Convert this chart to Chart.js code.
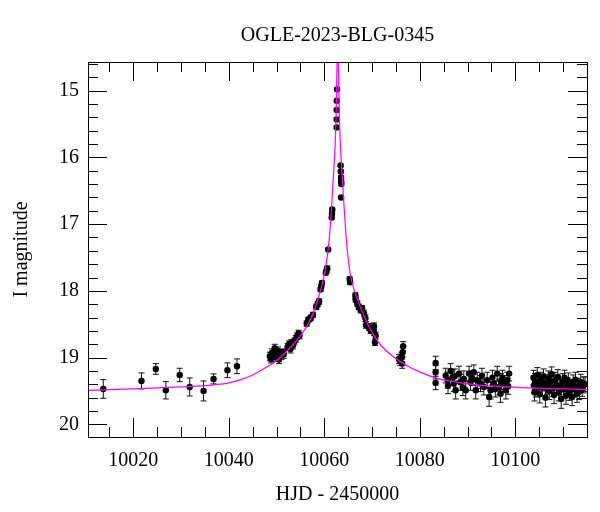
<!DOCTYPE html>
<html>
<head>
<meta charset="utf-8">
<script src="https://cdn.jsdelivr.net/npm/chart.js@4/dist/chart.umd.min.js"></script>
<style>
  html, body { margin: 0; padding: 0; background: #fff; }
  #wrap { width: 600px; height: 512px; }
</style>
</head>
<body>
<div id="wrap"><canvas id="c" width="600" height="512"></canvas></div>
<script>
// ---------- DATA ----------
const chartTitle = "OGLE-2023-BLG-0345";
const xTitle = "HJD - 2450000";
const yTitle = "I magnitude";

// observations: HJD-2450000, I magnitude, error
const obsHJD = [
  10013.7,10021.7,10024.7,10026.8,10029.7,10031.8,10034.7,10036.8,10039.7,10041.7,
  10048.6,10048.8,10049.0,10049.3,10049.6,10049.8,10050.0,10050.3,10050.5,10050.7,
  10051.0,10051.3,10051.5,10052.3,10052.6,10052.9,10053.1,10053.4,10053.7,10054.0,
  10054.3,10054.6,10054.8,10056.3,10056.6,10056.9,10057.2,10057.6,10058.3,10058.6,
  10058.9,10059.2,10059.35,10059.5,10060.3,10060.45,10060.6,10060.8,10061.55,10061.6,
  10061.65,10062.58,10062.58,10062.6,10062.6,10062.65,10063.4,10063.45,10063.5,10063.52,
  10063.55,10063.5,10065.3,10065.4,10066.5,10066.55,10066.9,10067.2,10067.6,10067.9,
  10068.3,10068.6,10068.7,10069.3,10069.7,10070.4,10070.4,10070.6,10070.75,
  10075.6,10075.9,10076.2,10076.4,10076.5,10076.3,
  10083.3,10083.3,10083.3,
  10085.4,10085.8,10086.45,10086.8,10087.1,10087.5,10088.2,10088.5,10089.2,10089.6,
  10090.3,10090.6,10091.3,10091.7,10092.0,10092.7,10093.4,10094.1,10094.5,10094.8,
  10095.2,10095.5,10096.2,10096.6,10096.9,10097.3,10097.6,10098.0,10098.3,10098.7,
  10085.9,10087.3,10089.0,10090.9,10093.0,10095.8,10097.0,10098.5,
  10103.8,10103.9,10104.0,10104.1,10104.3,10104.6,10104.9,10105.1,10105.3,10105.6,
  10105.9,10106.1,10106.3,10106.6,10106.9,10107.1,10107.3,10107.6,10107.9,10108.1,
  10108.3,10108.6,10108.9,10109.1,10109.3,10109.6,10109.9,10110.1,10110.3,10110.6,
  10110.9,10111.1,10111.3,10111.6,10111.9,10112.1,10112.3,10112.6,10112.9,10113.1,
  10113.4,10113.7,10114.0,10114.3,10114.6
];
const obsMag = [
  19.47,19.35,19.17,19.49,19.26,19.44,19.50,19.32,19.19,19.13,
  18.98,19.02,18.93,18.96,18.86,19.00,18.95,18.90,19.03,18.93,
  18.97,18.92,18.95,18.84,18.80,18.87,18.78,18.82,18.76,18.72,
  18.68,18.64,18.67,18.49,18.44,18.42,18.40,18.36,18.24,18.20,
  18.16,17.98,17.93,17.88,17.73,17.70,17.66,17.38,16.90,16.84,
  16.78,15.55,15.43,15.29,15.15,14.98,16.12,16.21,16.30,16.36,
  16.40,16.60,17.82,17.87,18.07,18.13,18.19,18.24,18.29,18.26,
  18.34,18.41,18.51,18.54,18.59,18.53,18.62,18.77,18.67,
  19.02,19.05,18.99,18.92,18.83,19.09,
  19.08,19.22,19.38,
  19.27,19.34,19.20,19.30,19.39,19.49,19.24,19.37,19.32,19.49,
  19.24,19.37,19.22,19.49,19.34,19.39,19.44,19.34,19.59,19.49,
  19.30,19.39,19.24,19.44,19.54,19.30,19.39,19.49,19.34,19.24,
  19.42,19.28,19.45,19.31,19.27,19.47,19.36,19.43,
  19.30,19.42,19.52,19.36,19.47,19.26,19.40,19.55,19.33,19.45,
  19.28,19.38,19.60,19.43,19.31,19.50,19.37,19.25,19.46,19.56,
  19.34,19.41,19.29,19.52,19.44,19.62,19.36,19.48,19.30,19.57,
  19.42,19.35,19.51,19.45,19.59,19.38,19.47,19.33,19.54,19.43,
  19.50,19.37,19.46,19.41,19.40
];
const obsErr = [
  0.14,0.12,0.08,0.13,0.10,0.135,0.15,0.075,0.11,0.11,
  0.06,0.06,0.06,0.05,0.06,0.06,0.05,0.06,0.06,0.05,
  0.06,0.05,0.06,0.05,0.05,0.06,0.05,0.05,0.05,0.05,
  0.05,0.05,0.05,0.04,0.04,0.04,0.04,0.04,0.04,0.04,
  0.04,0.03,0.03,0.03,0.03,0.03,0.03,0.02,0.02,0.02,
  0.02,0.02,0.02,0.02,0.02,0.02,0.02,0.02,0.02,0.02,
  0.02,0.02,0.03,0.03,0.04,0.04,0.04,0.04,0.04,0.04,
  0.05,0.05,0.05,0.05,0.05,0.05,0.05,0.05,0.05,
  0.07,0.07,0.07,0.07,0.07,0.07,
  0.10,0.10,0.10,
  0.11,0.12,0.11,0.12,0.12,0.13,0.11,0.12,0.12,0.13,
  0.11,0.12,0.11,0.13,0.12,0.12,0.12,0.12,0.14,0.13,
  0.11,0.12,0.11,0.12,0.13,0.11,0.12,0.13,0.12,0.11,
  0.12,0.11,0.12,0.11,0.11,0.12,0.12,0.12,
  0.11,0.12,0.13,0.12,0.12,0.11,0.12,0.13,0.11,0.12,
  0.11,0.12,0.14,0.12,0.11,0.13,0.12,0.11,0.12,0.13,
  0.12,0.12,0.11,0.13,0.12,0.14,0.12,0.12,0.11,0.13,
  0.12,0.12,0.13,0.12,0.13,0.12,0.12,0.11,0.13,0.12,
  0.13,0.12,0.12,0.12,0.11
];

// model curve
const modelHJD = [10010.5,10020,10030,10035,10040,10042.5,10045,10047,10049.5,10051.5,10053.6,10055,10056.4,10057.8,10059.2,10060.2,10061.0,10061.8,10062.45,10062.65,10062.78,10062.92,10063.15,10063.83,10064.8,10065.4,10066.3,10067.5,10068.8,10070.3,10072,10074.5,10077.5,10080.8,10084,10087.8,10092,10098.3,10105,10115];
const modelMag = [19.49,19.47,19.44,19.42,19.38,19.33,19.26,19.18,19.07,18.95,18.79,18.67,18.52,18.31,17.99,17.68,17.24,16.39,15.40,14.57,14.25,14.57,15.40,16.39,17.39,17.74,18.00,18.24,18.46,18.66,18.83,18.99,19.13,19.24,19.32,19.37,19.41,19.44,19.46,19.48];

// axis ranges and ticks
const xMin = 10010.5, xMax = 10115.0;
const yMin = 14.57, yMax = 20.19;
const xMajor = 20, xMinor = 5;
const yMajor = 1, yMinor = 0.2;

// ---------- CHART ----------
const FONT = "'Liberation Serif', 'Times New Roman', serif";

const errorBars = {
  id: 'errorBars',
  beforeDatasetsDraw(chart) {
    const {ctx, chartArea: a, scales: {x, y}} = chart;
    ctx.save();
    ctx.beginPath(); ctx.rect(a.left, a.top, a.right - a.left, a.bottom - a.top); ctx.clip();
    ctx.strokeStyle = '#111';
    ctx.lineWidth = 1;
    ctx.beginPath();
    for (let i = 0; i < obsHJD.length; i++) {
      const px = x.getPixelForValue(obsHJD[i]);
      const y1 = y.getPixelForValue(obsMag[i] - obsErr[i]);
      const y2 = y.getPixelForValue(obsMag[i] + obsErr[i]);
      ctx.moveTo(px, y1); ctx.lineTo(px, y2);
      ctx.moveTo(px - 3, y1); ctx.lineTo(px + 3, y1);
      ctx.moveTo(px - 3, y2); ctx.lineTo(px + 3, y2);
    }
    ctx.stroke();
    ctx.restore();
  }
};

const frameTicks = {
  id: 'frameTicks',
  afterDraw(chart) {
    const {ctx, chartArea: a, scales: {x, y}} = chart;
    ctx.save();
    ctx.strokeStyle = '#000';
    ctx.lineWidth = 1;
    ctx.beginPath();
    const eps = 1e-6;
    const startX = Math.ceil(xMin / xMinor) * xMinor;
    for (let v = startX; v <= xMax + eps; v += xMinor) {
      const major = Math.abs(v / xMajor - Math.round(v / xMajor)) < 1e-6;
      const L = major ? 19 : 10;
      const px = Math.round(x.getPixelForValue(v)) + 0.5;
      ctx.moveTo(px, a.bottom); ctx.lineTo(px, a.bottom - L);
      ctx.moveTo(px, a.top); ctx.lineTo(px, a.top + L);
    }
    const startY = Math.ceil(yMin / yMinor) * yMinor;
    for (let k = 0; ; k++) {
      const v = Math.round((startY + k * yMinor) * 100) / 100;
      if (v > yMax + eps) break;
      const major = Math.abs(v / yMajor - Math.round(v / yMajor)) < 1e-6;
      const L = major ? 19 : 10;
      const py = Math.round(y.getPixelForValue(v)) + 0.5;
      ctx.moveTo(a.left, py); ctx.lineTo(a.left + L, py);
      ctx.moveTo(a.right, py); ctx.lineTo(a.right - L, py);
    }
    ctx.stroke();
    ctx.strokeRect(Math.round(a.left) + 0.5, Math.round(a.top) + 0.5,
                   Math.round(a.right - a.left), Math.round(a.bottom - a.top));
    ctx.restore();
  }
};

const obsPoints = obsHJD.map((h, i) => ({x: h, y: obsMag[i]}));
const modelPoints = modelHJD.map((h, i) => ({x: h, y: modelMag[i]}));

new Chart(document.getElementById('c'), {
  type: 'scatter',
  data: {
    datasets: [
      {
        type: 'line',
        data: modelPoints,
        borderColor: '#ff00ff',
        borderWidth: 1.2,
        pointRadius: 0,
        fill: false,
        cubicInterpolationMode: 'monotone',
        order: 0
      },
      {
        data: obsPoints,
        backgroundColor: '#000',
        borderColor: '#000',
        borderWidth: 0,
        pointRadius: 3.2,
        order: 1
      }
    ]
  },
  options: {
    responsive: false,
    animation: false,
    devicePixelRatio: 1,
    layout: { padding: { left: 0, right: 13, top: 0, bottom: 0 } },
    plugins: {
      legend: { display: false },
      tooltip: { enabled: false },
      title: {
        display: true,
        text: chartTitle,
        color: '#000',
        fullSize: false,
        font: { family: FONT, size: 20, weight: 'normal' },
        padding: { top: 24, bottom: 14 }
      }
    },
    scales: {
      x: {
        type: 'linear',
        min: xMin, max: xMax,
        grid: { display: false, drawTicks: false },
        border: { display: false },
        ticks: {
          stepSize: xMajor,
          includeBounds: false,
          color: '#000',
          font: { family: FONT, size: 20 },
          padding: 12,
          maxRotation: 0,
          callback: v => String(v)
        },
        title: {
          display: true, text: xTitle, color: '#000',
          font: { family: FONT, size: 20 },
          padding: { top: 5, bottom: 5 }
        },
        afterFit(s) { s.height = 75; }
      },
      y: {
        type: 'linear',
        reverse: true,
        min: yMin, max: yMax,
        grid: { display: false, drawTicks: false },
        border: { display: false },
        ticks: {
          stepSize: yMajor,
          includeBounds: false,
          color: '#000',
          font: { family: FONT, size: 20 },
          padding: 9,
          callback: v => String(v)
        },
        title: {
          display: true, text: yTitle, color: '#000',
          font: { family: FONT, size: 20 },
          padding: { top: 10, bottom: 10 }
        },
        afterFit(s) { s.width = 88; }
      }
    }
  },
  plugins: [errorBars, frameTicks]
});
</script>
</body>
</html>
